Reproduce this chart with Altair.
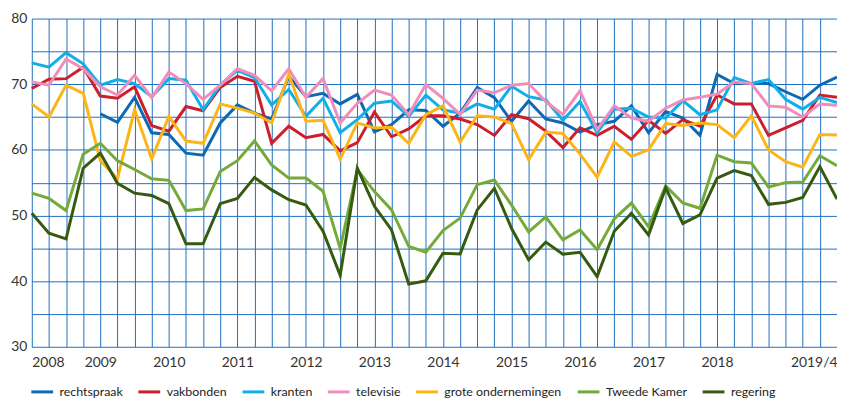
import altair as alt
import pandas as pd

# quarters 2008Q1 .. 2019Q4 as index 0..47
quarters = list(range(48))

year_labels = ["2008", "2009", "2010", "2011", "2012", "2013", "2014",
               "2015", "2016", "2017", "2018", "2019/4"]
year_tick_idx = [0, 4, 8, 12, 16, 20, 24, 28, 32, 36, 40, 47]

series_names = ["rechtspraak", "vakbonden", "kranten", "televisie",
                "grote ondernemingen", "Tweede Kamer", "regering"]
series_colors = ["#0f68b2", "#cc1f2d", "#12aee9", "#f08dbb",
                 "#fdb515", "#74aa3a", "#355a10"]

rechtspraak = [None, None, None, None, 65.5, 64.2, 68.0, 62.6, 62.35, 59.5, 59.2, 64.1,
               66.85, 65.6, 64.7, 71.2, 68.1, 68.6, 67.0, 68.45, 62.75, 63.85, 66.1, 66.0,
               63.6, 65.6, 69.5, 67.95, 64.35, 67.45, 64.7, 64.1, 62.7, 63.85, 64.35, 66.7,
               62.6, 65.85, 64.85, 62.2, 71.5, 70.1, 70.1, 70.1, 68.85, 67.7, 69.85, 71.1]
vakbonden = [69.35, 70.75, 70.85, 72.6, 68.2, 67.85, 69.6, 63.7, 62.85, 66.6, 65.95, 69.5,
             71.2, 70.45, 61.0, 63.6, 61.85, 62.35, 59.85, 61.1, 65.75, 62.0, 63.2, 65.2,
             65.2, 64.7, 63.85, 62.2, 65.35, 64.75, 62.85, 60.35, 63.35, 62.2, 63.6, 61.6,
             64.5, 62.5, 64.6, 63.6, 68.35, 67.0, 67.0, 62.2, 63.35, 64.5, 68.35, 68.0]
kranten = [73.25, 72.6, 74.8, 73.1, 69.85, 70.7, 70.1, 68.1, 70.85, 70.6, 66.1, 69.9,
           72.1, 71.0, 66.85, 69.2, 65.1, 67.85, 62.6, 64.6, 67.1, 67.45, 65.1, 68.35,
           66.1, 65.6, 67.0, 66.2, 69.7, 68.1, 67.6, 64.5, 67.35, 62.6, 66.2, 66.35,
           65.0, 64.85, 67.5, 65.35, 66.1, 71.0, 70.1, 70.7, 67.7, 66.2, 68.0, 67.2]
televisie = [70.35, 69.85, 73.85, 72.35, 69.6, 68.35, 71.35, 67.95, 71.85, 70.1, 67.7, 69.85,
             72.35, 71.35, 69.0, 72.35, 68.0, 70.85, 64.1, 67.1, 69.1, 68.35, 65.35, 69.95,
             67.85, 65.4, 69.1, 68.7, 69.85, 70.1, 67.35, 65.4, 69.0, 63.1, 66.7, 64.85,
             64.35, 66.35, 67.6, 68.0, 68.5, 70.35, 70.1, 66.7, 66.5, 65.0, 67.0, 66.8]
grote_ondernemingen = [67.0, 65.0, 69.85, 68.6, 58.35, 55.6, 66.1, 58.6, 65.1, 61.35, 61.0, 67.0,
                       66.35, 65.6, 64.1, 71.5, 64.35, 64.5, 58.6, 64.1, 63.35, 63.45, 61.0, 65.35,
                       66.7, 61.2, 65.2, 65.0, 64.0, 58.5, 62.7, 62.5, 59.35, 55.85, 61.2, 59.0,
                       60.0, 64.0, 63.7, 64.1, 63.85, 61.85, 65.2, 60.0, 58.2, 57.35, 62.35, 62.25]
tweede_kamer = [53.4, 52.6, 50.75, 59.35, 61.0, 58.35, 57.0, 55.6, 55.35, 50.75, 51.0, 56.7,
                58.35, 61.35, 57.7, 55.7, 55.7, 53.7, 45.0, 57.0, 53.65, 50.85, 45.3, 44.4,
                47.7, 49.6, 54.7, 55.4, 51.6, 47.5, 49.8, 46.3, 47.8, 44.8, 49.5, 51.9,
                48.3, 54.5, 51.9, 51.1, 59.2, 58.2, 58.0, 54.35, 55.0, 55.1, 59.1, 57.6]
regering = [50.35, 47.3, 46.45, 57.2, 59.5, 54.9, 53.4, 53.05, 51.8, 45.7, 45.7, 51.8,
            52.6, 55.8, 53.9, 52.4, 51.6, 47.6, 40.9, 57.2, 51.4, 47.8, 39.55, 40.05,
            44.25, 44.15, 50.85, 54.15, 48.05, 43.25, 45.95, 44.1, 44.4, 40.7, 47.6, 50.35,
            47.05, 54.2, 48.8, 50.1, 55.7, 56.85, 56.1, 51.7, 52.0, 52.75, 57.45, 52.5]

all_series = [rechtspraak, vakbonden, kranten, televisie,
              grote_ondernemingen, tweede_kamer, regering]

rows = []
for name, vals in zip(series_names, all_series):
    for q, v in zip(quarters, vals):
        if v is not None:
            rows.append({"q": q, "serie": name, "waarde": v})
df = pd.DataFrame(rows)

label_arr = [""] * len(quarters)
for idx, lab in zip(year_tick_idx, year_labels):
    label_arr[idx] = lab
label_expr = "[" + ",".join("'" + l + "'" for l in label_arr) + "][datum.value]"

grid_color = "#1f6fbf"
font = "Lato"

chart = alt.Chart(df).mark_line(strokeWidth=3).encode(
    x=alt.X("q:Q",
            scale=alt.Scale(domain=[0, 47], nice=False, zero=False),
            axis=alt.Axis(values=quarters, labelExpr=label_expr, grid=True,
                          ticks=False, domain=False, labelFlush=True,
                          labelOverlap=False, labelPadding=9, labelFontSize=14,
                          labelFont=font, labelColor="#333333",
                          gridColor=grid_color, gridWidth=1, title=None)),
    y=alt.Y("waarde:Q",
            scale=alt.Scale(domain=[30, 80], nice=False, zero=False),
            axis=alt.Axis(values=list(range(30, 81, 5)),
                          labelExpr="datum.value % 10 == 0 ? datum.label : ''",
                          grid=True, ticks=False, domain=False, labelPadding=5,
                          labelFontSize=14, labelFont=font, labelColor="#333333",
                          labelOverlap=False,
                          gridColor=grid_color, gridWidth=1, title=None)),
    color=alt.Color("serie:N",
                    scale=alt.Scale(domain=series_names, range=series_colors),
                    sort=series_names,
                    legend=alt.Legend(title=None, orient="none", direction="horizontal",
                                      columns=7, legendX=-2, legendY=364,
                                      symbolType="stroke", symbolSize=484,
                                      symbolStrokeWidth=3, labelOffset=5,
                                      columnPadding=9, labelFontSize=12.5,
                                      labelFont=font, labelColor="#222222",
                                      padding=0)),
).properties(
    width=812, height=331,
    padding={"left": 24, "top": 9, "right": 0, "bottom": 52},
    autosize="none",
).configure_view(stroke=None)

chart.save("out.html", embed_options={"renderer": "svg", "actions": False})
